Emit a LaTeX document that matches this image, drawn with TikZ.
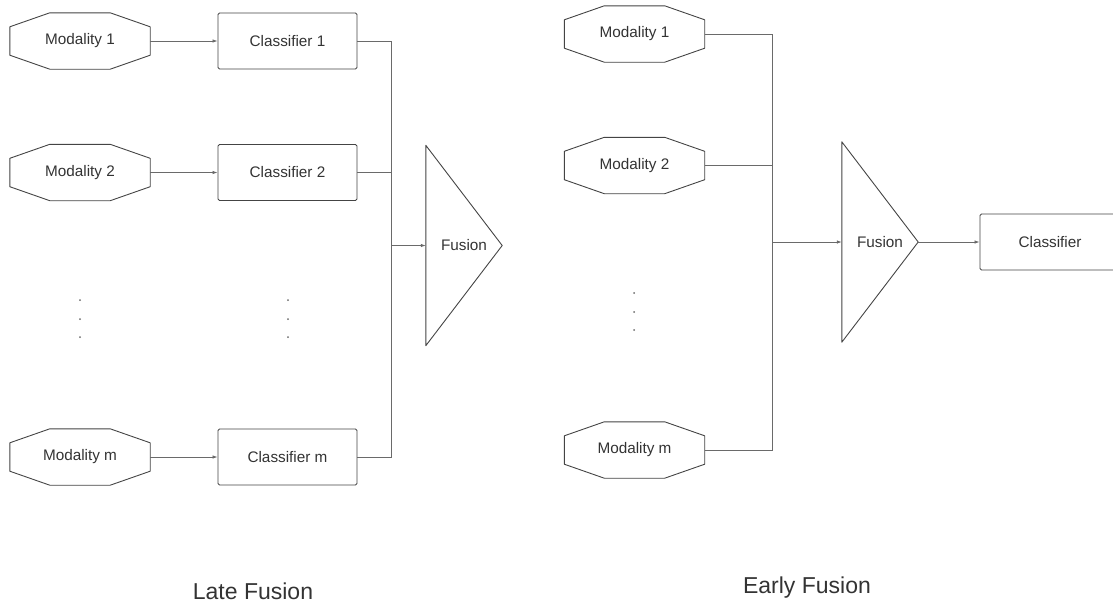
\documentclass[tikz,border=0pt]{standalone}
\usepackage{fontspec}
\setmainfont{Liberation Sans}
\usetikzlibrary{arrows.meta,calc}

\definecolor{ink}{HTML}{333333}
\definecolor{edge}{HTML}{444444}
\definecolor{wire}{HTML}{6A6A6A}

\tikzset{
  labelfont/.style={font=\fontsize{15.3}{17}\selectfont, text=ink},
  box/.style={draw=edge, line width=0.9pt, rounded corners=1.5pt,
    minimum width=139pt, minimum height=56pt, inner sep=0pt, labelfont},
  modal/.style={minimum width=140pt, minimum height=56pt, inner sep=0pt, labelfont},
  fuse/.style={minimum width=76pt, minimum height=200pt, inner sep=0pt, labelfont},
  wireline/.style={draw=wire, line width=0.8pt},
  flow/.style={wireline, -{Latex[length=5pt,width=3.5pt]}},
  caption/.style={font=\fontsize{23}{25}\selectfont, text=ink, anchor=base},
  dotmark/.style={fill=wire},
}

% octagon drawn around a named node
\newcommand{\octo}[1]{%
  \draw[draw=edge, line width=0.9pt, line join=round]
    ([xshift=40pt]#1.north west) -- ([xshift=-40pt]#1.north east)
    -- ([yshift=-14pt]#1.north east) -- ([yshift=14pt]#1.south east)
    -- ([xshift=-40pt]#1.south east) -- ([xshift=40pt]#1.south west)
    -- ([yshift=14pt]#1.south west) -- ([yshift=-14pt]#1.north west) -- cycle;}
% right-pointing triangle drawn around a named node
\newcommand{\fusetri}[1]{%
  \draw[draw=edge, line width=0.9pt, line join=round]
    (#1.north west) -- (#1.east) -- (#1.south west) -- cycle;}

\begin{document}
\begin{tikzpicture}[x=1pt, y=-1pt]
\useasboundingbox (0,0) rectangle (1113,606);

% ---------- late fusion ----------
\node[modal] (lm1) at (80,41)    {Modality 1};
\node[modal] (lm2) at (80,172.5) {Modality 2};
\node[modal] (lmm) at (80,457)   {Modality m};
\octo{lm1}\octo{lm2}\octo{lmm}

\node[box] (lc1) at (287.5,41)    {Classifier 1};
\node[box] (lc2) at (287.5,172.5) {Classifier 2};
\node[box] (lcm) at (287.5,457)   {Classifier m};

\node[fuse] (lfus) at (464,245.5) {Fusion};
\fusetri{lfus}

\coordinate (lbus) at (391,245.5);

\draw[flow] (lm1.east) -- (lc1.west);
\draw[flow] (lm2.east) -- (lc2.west);
\draw[flow] (lmm.east) -- (lcm.west);

\draw[wireline] (lc1.east) -| (lbus);
\draw[wireline] (lcm.east) -| (lbus);
\draw[wireline] (lc2.east) -- (lc2.east -| lbus);
\draw[flow] (lbus) -- (lfus.west);

\foreach \yy in {300,319,337} {
  \fill[dotmark] (80,\yy) circle (1pt);
  \fill[dotmark] (288,\yy) circle (1pt);
}

\node[caption] (lcap) at (253,599) {Late Fusion};

% ---------- early fusion ----------
\node[modal] (rm1) at (634.5,34)    {Modality 1};
\node[modal] (rm2) at (634.5,165.5) {Modality 2};
\node[modal] (rmm) at (634.5,450)   {Modality m};
\octo{rm1}\octo{rm2}\octo{rmm}

\node[fuse] (rfus) at (880,242) {Fusion};
\fusetri{rfus}

\node[box, minimum width=140pt] (rclf) at (1050,242) {Classifier};

\coordinate (rbus) at (772,242);

\draw[wireline] (rm1.east) -| (rbus);
\draw[wireline] (rmm.east) -| (rbus);
\draw[wireline] (rm2.east) -- (rm2.east -| rbus);
\draw[flow] (rbus) -- (rfus.west);
\draw[flow] (rfus.east) -- (rclf.west);

\foreach \yy in {293,312,330} {
  \fill[dotmark] (634,\yy) circle (1pt);
}

\node[caption] (rcap) at (807,593) {Early Fusion};
\end{tikzpicture}
\end{document}
